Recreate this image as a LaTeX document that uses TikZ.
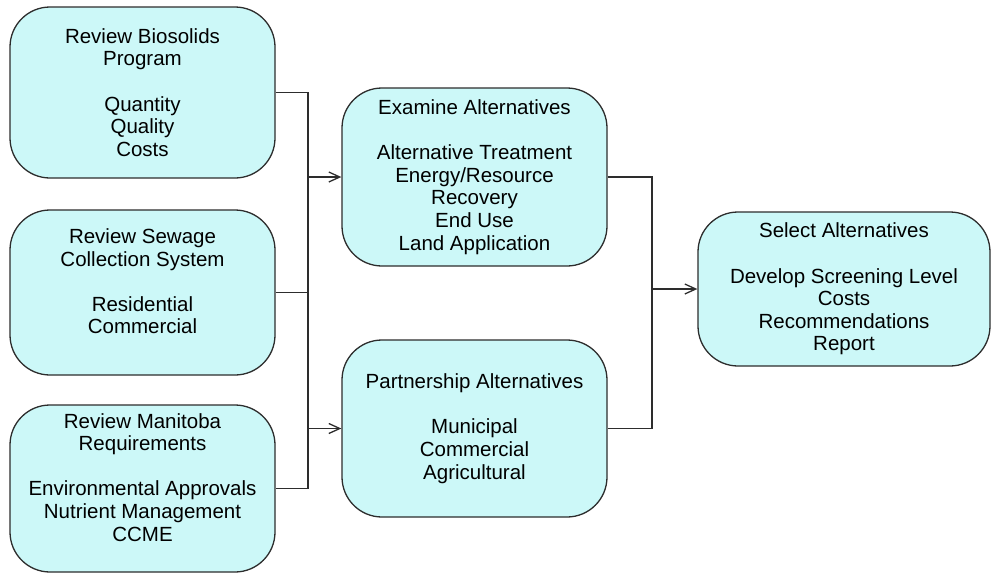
\documentclass[tikz,border=0pt]{standalone}
\usepackage{fontspec}
\setmainfont{Liberation Sans}
\usepackage{tikz}
\usetikzlibrary{arrows.meta}
\definecolor{boxcyan}{RGB}{204,248,248}
\definecolor{linegray}{RGB}{45,45,45}
\def\boxFillColor{boxcyan}
\def\boxDrawColor{linegray}
\tikzset{
task box/.style={draw=\boxDrawColor, fill=\boxFillColor, line width=1.3pt,
  rounded corners=40pt, align=center, inner sep=0pt,
  font=\fontsize{20.5}{22.6}\selectfont},
%
flow line/.style={draw=\boxDrawColor, line width=1.4pt},
flow arrow/.style={flow line, -{Straight Barb[length=11pt,width=10pt,line width=1.3pt]}},
}

\begin{document}
\begin{tikzpicture}[x=1pt,y=-1pt]
        \useasboundingbox (0,0) rectangle (993,573);
        % left column
        \node[task box, minimum width=265pt, minimum height=171pt] (biosolids) at (142.5,92.5)
            {Review Biosolids\\Program\\~\\Quantity\\Quality\\Costs};
        \node[task box, minimum width=265pt, minimum height=165pt] (sewage) at (142.5,292.5)
            {Review Sewage\\Collection System\\~\\Residential\\Commercial\\~};
        \node[task box, minimum width=265pt, minimum height=167pt] (manitoba) at (142.5,488.5)
            {Review Manitoba\\Requirements\\~\\Environmental Approvals\\Nutrient Management\\CCME\\~};
        % middle column
        \node[task box, minimum width=265pt, minimum height=178pt] (examine) at (474.5,177)
            {Examine Alternatives\\~\\Alternative Treatment\\Energy/Resource\\Recovery\\End Use\\Land Application};
        \node[task box, minimum width=265pt, minimum height=177pt] (partner) at (474.5,428.5)
            {Partnership Alternatives\\~\\Municipal\\Commercial\\Agricultural};
        % right column
        \node[task box, minimum width=292pt, minimum height=154pt] (select) at (844,289)
            {Select Alternatives\\~\\Develop Screening Level\\Costs\\Recommendations\\Report};
        \coordinate (busL) at (308,0);
        \coordinate (busR) at (652,0);
        \draw[flow line] (biosolids.east) -| (busL |- manitoba.east) -- (manitoba.east);
        \draw[flow line] (sewage.east) -- (busL |- sewage.east);
        \draw[flow arrow] (busL |- examine.west) -- (examine.west);
        \draw[flow arrow] (busL |- partner.west) -- (partner.west);
        \draw[flow line] (examine.east) -| (busR |- partner.east) -- (partner.east);
        \draw[flow arrow] (busR |- select.west) -- (select.west);
    \end{tikzpicture}
\end{document}
